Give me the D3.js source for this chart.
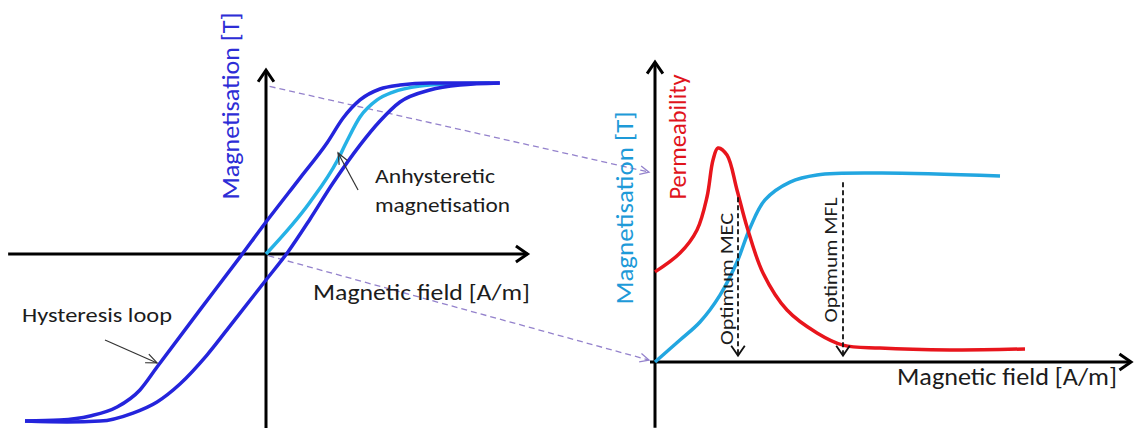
<!DOCTYPE html>
<meta charset="utf-8">
<style>

body {
  margin: 0;
  background: #fff;
}

text {
  font-family: Carlito, Lato, "Open Sans", sans-serif;
  fill: #1c1c1c;
}

.axis-line {
  stroke: #000;
  stroke-width: 3;
  fill: none;
}

.loop {
  fill: none;
  stroke: #2424dc;
  stroke-width: 3.5;
}

.anhyst {
  fill: none;
  stroke: #25b2e6;
  stroke-width: 3.5;
}

.perm {
  fill: none;
  stroke: #e8151c;
  stroke-width: 3.5;
}

.magn {
  fill: none;
  stroke: #22a6e0;
  stroke-width: 3.5;
}

.connector {
  fill: none;
  stroke: #9482cc;
  stroke-width: 1.3;
  stroke-dasharray: 6 4;
}

.optimum {
  fill: none;
  stroke: #111;
  stroke-width: 1.8;
  stroke-dasharray: 5 3;
}

.pointer {
  fill: none;
  stroke: #333;
  stroke-width: 1.2;
}

</style>

<svg id="fig" width="1134" height="428"></svg>
<script src="https://d3js.org/d3.v7.min.js"></script>

<script>

// left panel: hysteresis loop, [H, M] in relative units
var loopUpper = [[-100,-97.7],[-85.5,-97.1],[-73,-94.7],[-61.8,-89.5],[-52.3,-79.5],[-45.2,-66.1],
  [-27.4,-32.7],[-10.8,-1.8],[0,18.7],[14.1,44.4],[25.3,64.9],[32,79.5],[39,90.1],
  [47.3,96.5],[55.6,98.8],[68,100],[97,100]];
var loopLower = [[-100,-97.7],[-82.6,-98.2],[-68.9,-97.7],[-55.2,-93],[-45.2,-86.5],[-35.7,-76],
  [-24.5,-59.1],[-13.7,-39.8],[0,-15.2],[9.1,1.2],[18.3,20.5],[27.8,41.5],[39,63.7],[47.3,77.8],
  [55.6,88.9],[68,95.9],[80.5,98.8],[97,100]];
var anhysteretic = [[0,0],[18.3,30.4],[29.5,54.4],[33.6,66.1],[39,80.1],[46.1,90.1],
  [52.7,94.7],[63.9,98.2],[76.3,99.4],[92.9,100]];

// right panel: [H, value] in relative units
var permeability = [[0,42.1],[6.25,50.9],[10.5,61.7],[13,77.1],[14.5,94.4],[15.75,100],[18,96.7],
  [20.5,80.4],[23,63.1],[27,41.6],[33,24.3],[40.5,13.6],[47,7.9],[56.25,6.5],[73.75,5.6],[92.5,6.1]];
var magnetisation = [[0,0],[6.25,11.7],[11.25,21.3],[16.25,35.6],[20.5,53.2],[23.75,71.3],
  [27.5,86.2],[33.75,95.7],[40.5,99.5],[56.25,100.5],[86.25,98.9]];

var optimumNames = ["Optimum MEC", "Optimum MFL"];
var optimumH = [20.75, 47];
var optimumTop = [77, 84];   // permeability units
var optimumBottom = 3;

var svg = d3.select("#fig");

// scales
var xL = d3.scaleLinear().domain([-100, 100]).range([25, 507]),
    yL = d3.scaleLinear().domain([-100, 100]).range([425, 83]),
    xR = d3.scaleLinear().domain([0, 100]).range([655, 1055]),
    yM = d3.scaleLinear().domain([0, 100]).range([362, 174]),
    yP = d3.scaleLinear().domain([0, 100]).range([362, 148]);

// open chevron arrow head
function chevron(g, x1, y1, x2, y2, len, spread, cls) {
  var a = Math.atan2(y2 - y1, x2 - x1);
  var pts = [
    [x2 - len * Math.cos(a - spread), y2 - len * Math.sin(a - spread)],
    [x2, y2],
    [x2 - len * Math.cos(a + spread), y2 - len * Math.sin(a + spread)]
  ];
  g.append("path")
    .attr("class", cls)
    .style("stroke-dasharray", "none")
    .attr("d", d3.line()(pts));
}

function arrowLine(g, x1, y1, x2, y2, len, spread, cls) {
  g.append("path")
    .attr("class", cls)
    .attr("d", d3.line()([[x1, y1], [x2, y2]]));
  chevron(g, x1, y1, x2, y2, len, spread, cls);
}

var axes = svg.append("g");

// left axes
arrowLine(axes, xL(-107), yL(0), xL(108.5), yL(0), 14, 0.6, "axis-line");
arrowLine(axes, xL(0), yL(-102), xL(0), yL(107.5), 14, 0.6, "axis-line");
// right axes
arrowLine(axes, xR(-1.25), yM(0), xR(119), yM(0), 14, 0.6, "axis-line");
arrowLine(axes, xR(0), yM(-35), xR(0), yM(159.5), 14, 0.6, "axis-line");

// dashed connectors between panels
var conn = svg.append("g");
arrowLine(conn, xL(1.5), yL(98), xR(-1.5), yM(101), 10, 0.45, "connector");
arrowLine(conn, xL(1), yL(-1), xR(-1.5), yM(1), 10, 0.45, "connector");

var curve = d3.curveMonotoneX;

var lineL = d3.line()
    .x(function(d) { return xL(d[0]); })
    .y(function(d) { return yL(d[1]); })
    .curve(curve);

svg.append("path").datum(anhysteretic).attr("class", "anhyst").attr("d", lineL);
svg.append("path").datum(loopUpper).attr("class", "loop").attr("d", lineL);
svg.append("path").datum(loopLower).attr("class", "loop").attr("d", lineL);

var lineM = d3.line()
    .x(function(d) { return xR(d[0]); })
    .y(function(d) { return yM(d[1]); })
    .curve(d3.curveCatmullRom.alpha(0.5));
var lineP = d3.line()
    .x(function(d) { return xR(d[0]); })
    .y(function(d) { return yP(d[1]); })
    .curve(d3.curveCatmullRom.alpha(0.5));

svg.append("path").datum(magnetisation).attr("class", "magn").attr("d", lineM);
svg.append("path").datum(permeability).attr("class", "perm").attr("d", lineP);

// optimum markers
var opt = svg.append("g");
optimumNames.forEach(function(name, i) {
  var x = xR(optimumH[i]);
  arrowLine(opt, x, yP(optimumTop[i]), x, yP(optimumBottom), 12, 0.6, "optimum");
});

// pointers to the curves
var ptr = svg.append("g");
arrowLine(ptr, xL(-66.8), yL(-50.3), xL(-45.2), yL(-63.7), 12, 0.4, "pointer");
arrowLine(ptr, xL(38.2), yL(37.4), xL(29.9), yL(59.1), 12, 0.4, "pointer");

// labels
function label(txt, x, y, size, len, rot, color) {
  var t = svg.append("text")
    .attr("transform", "translate(" + x + "," + y + ")" + (rot ? " rotate(-90)" : ""))
    .attr("text-anchor", rot ? "middle" : "start")
    .style("font-size", size + "px")
    .attr("textLength", len)
    .attr("lengthAdjust", "spacingAndGlyphs")
    .text(txt);
  if (color) t.style("fill", color);
  return t;
}

label("Magnetisation [T]", 239, 106, 24, 187, true, "#2d2dd6");
label("Magnetic field [A/m]", 313, 300, 23, 217, false);
label("Hysteresis loop", 22, 322, 20, 150, false);
label("Anhysteretic", 375, 183, 21, 120, false);
label("magnetisation", 375, 212, 21, 135, false);

label("Magnetisation [T]", 633, 208, 24, 193, true, "#1e9ad8");
label("Permeability", 686, 137, 24, 125, true, "#e0141c");
label("Magnetic field [A/m]", 897, 385, 24, 220, false);
label(optimumNames[0], 733, 279, 18, 132, true);
label(optimumNames[1], 837, 260, 18, 125, true);

</script>
